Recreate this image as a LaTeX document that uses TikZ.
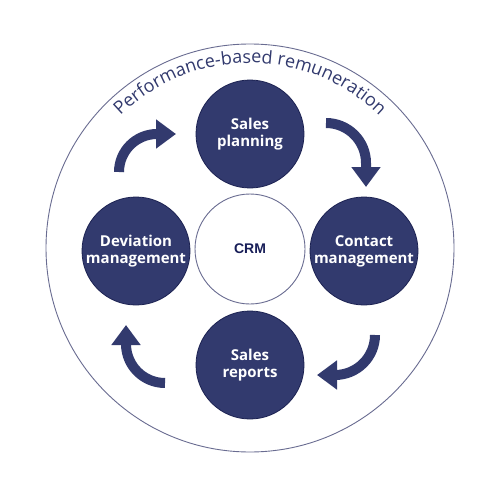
\documentclass[tikz,border=0pt]{standalone}
\usepackage{fontspec}
\setmainfont{Open Sans}
\newfontfamily\crmfont{Liberation Sans}
\usetikzlibrary{arrows.meta,decorations.text}
\definecolor{navy}{RGB}{50,58,110}
\definecolor{navyline}{RGB}{28,34,82}
\definecolor{ringgray}{RGB}{105,108,145}
\definecolor{crmtext}{RGB}{24,30,88}
\tikzset{
  stage/.style={circle, fill=navy, draw=navyline, line width=0.8pt, minimum size=108pt, inner sep=0pt,
    align=center, text=white, font=\fontsize{15}{17}\selectfont\bfseries},
  hub/.style={circle, draw=ringgray, line width=0.9pt, fill=white, minimum size=110pt, inner sep=0pt,
    text=crmtext, font=\crmfont\fontsize{14}{15}\selectfont\bfseries},
  ring/.style={draw=ringgray, line width=0.9pt},
  cyclearrow/.style={draw=navy, line width=10pt, -{Triangle[width=28pt,length=20pt]}}
}
\begin{document}
\begin{tikzpicture}[x=1pt,y=-1pt]
\useasboundingbox (0,0) rectangle (500,500);
\fill[white] (0,0) rectangle (500,500);
% outer ring
\node[circle, ring, minimum size=408pt, inner sep=0pt] (outer) at (250,248) {};
% arc text
\path[decorate, decoration={text along path, text align=center,
  text={|\fontsize{18}{18}\selectfont\color{navy}|Performance-based remuneration}}]
  (250,248) ++(200:185) arc[start angle=200, end angle=340, radius=185];
% hub
\node[hub] (crm) at (250,249) {CRM};
% stages
\node[stage] (plan) at (250,134) {Sales\\planning};
\node[stage] (contact) at (364,251) {Contact\\management};
\node[stage] (report) at (250,365) {Sales\\reports};
\node[stage] (dev) at (136,251) {Deviation\\management};
% arrows
\coordinate (trs) at (326,123);
\coordinate (trt) at (366,187);
\coordinate (brs) at (375,335);
\coordinate (brt) at (317,375);
\coordinate (bls) at (165,383);
\coordinate (blt) at (126,325);
\coordinate (tls) at (119,172);
\coordinate (tlt) at (176,134);
\draw[cyclearrow] (trs) arc[start angle=270, end angle=360, radius=40] -- (trt);
\draw[cyclearrow] (brs) arc[start angle=0, end angle=90, radius=40] -- (brt);
\draw[cyclearrow] (bls) arc[start angle=90, end angle=180, radius=39] -- (blt);
\draw[cyclearrow] (tls) arc[start angle=180, end angle=270, radius=38] -- (tlt);
\end{tikzpicture}
\end{document}
